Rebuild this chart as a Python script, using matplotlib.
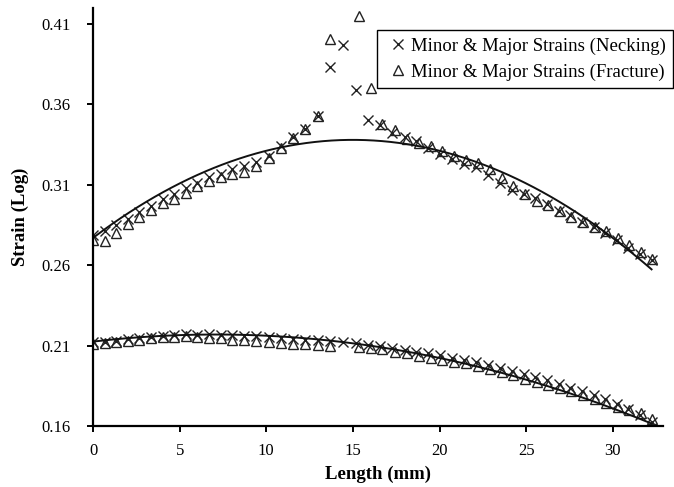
import numpy as np
import matplotlib
matplotlib.use("Agg")
import matplotlib.pyplot as plt

plt.rcParams['font.family'] = ['Liberation Serif', 'DejaVu Serif']

# ---------------- data ----------------
x_necking = [0.00, 0.67, 1.34, 2.01, 2.68, 3.35, 4.02, 4.69, 5.36, 6.03, 6.70, 7.37, 8.04, 8.71,
             9.42, 10.13, 10.84, 11.55, 12.26, 12.97, 13.68, 14.42, 15.16, 15.88, 16.58, 17.28,
             17.98, 18.67, 19.36, 20.05, 20.74, 21.43, 22.12, 22.81, 23.49, 24.17, 24.85, 25.53,
             26.21, 26.88, 27.55, 28.22, 28.89, 29.56, 30.23, 30.90, 31.57, 32.24]
major_necking = [0.279, 0.281, 0.285, 0.289, 0.293, 0.297, 0.301, 0.304, 0.308, 0.311, 0.315, 0.317,
                 0.320, 0.322, 0.324, 0.328, 0.334, 0.340, 0.345, 0.353, 0.383, 0.397, 0.369, 0.3505,
                 0.347, 0.342, 0.340, 0.337, 0.333, 0.329, 0.326, 0.323, 0.321, 0.316, 0.311, 0.307,
                 0.304, 0.302, 0.298, 0.294, 0.291, 0.287, 0.284, 0.280, 0.276, 0.271, 0.267, 0.263]
minor_necking = [0.2125, 0.2125, 0.2130, 0.2140, 0.2148, 0.2155, 0.2160, 0.2165, 0.2170, 0.2168,
                 0.2170, 0.2168, 0.2165, 0.2160, 0.2158, 0.2152, 0.2148, 0.2142, 0.2138, 0.2132,
                 0.2128, 0.2125, 0.2115, 0.2105, 0.2098, 0.2088, 0.2075, 0.2062, 0.2052, 0.2040,
                 0.2025, 0.2010, 0.1995, 0.1980, 0.1962, 0.1945, 0.1925, 0.1905, 0.1885, 0.1862,
                 0.1838, 0.1815, 0.1790, 0.1765, 0.1738, 0.1705, 0.1668, 0.1625]

x_fracture = [0.00, 0.67, 1.34, 2.01, 2.68, 3.35, 4.02, 4.69, 5.36, 6.03, 6.70, 7.37, 8.04, 8.71,
              9.42, 10.13, 10.84, 11.55, 12.26, 12.97, 13.68, 15.33, 16.02, 16.70, 17.42, 18.15,
              18.82, 19.50, 20.17, 20.86, 21.54, 22.22, 22.90, 23.58, 24.26, 24.94, 25.60, 26.27,
              26.94, 27.61, 28.28, 28.95, 29.62, 30.29, 30.96, 31.63, 32.28]
major_fracture = [0.276, 0.275, 0.280, 0.2855, 0.290, 0.2945, 0.2985, 0.301, 0.305, 0.309, 0.3125,
                  0.315, 0.317, 0.318, 0.322, 0.327, 0.333, 0.339, 0.345, 0.353, 0.401, 0.415,
                  0.370, 0.348, 0.344, 0.3385, 0.336, 0.334, 0.331, 0.328, 0.3255, 0.3235, 0.320,
                  0.314, 0.309, 0.304, 0.300, 0.2975, 0.2935, 0.290, 0.287, 0.284, 0.281, 0.2767,
                  0.2726, 0.2684, 0.2637]
minor_fracture = [0.2112, 0.2115, 0.2125, 0.2130, 0.2138, 0.2145, 0.2152, 0.2156, 0.2158, 0.2153,
                  0.2150, 0.2145, 0.2138, 0.2132, 0.2128, 0.2123, 0.2117, 0.2112, 0.2107, 0.2102,
                  0.2097, 0.2092, 0.2083, 0.2077, 0.2062, 0.2052, 0.2033, 0.2022, 0.2010, 0.2000,
                  0.1989, 0.1975, 0.1955, 0.1935, 0.1915, 0.1893, 0.1872, 0.1852, 0.1836, 0.1815,
                  0.1795, 0.1766, 0.1744, 0.1719, 0.1699, 0.1678, 0.1646]

# order-2 polynomial trend lines (coefficients, highest power first)
trend_major = [-0.000271, 0.00813, 0.277]
trend_minor = [-0.0000876, 0.001243, 0.2125]

y_ticks = [0.16, 0.21, 0.26, 0.31, 0.36, 0.41]
x_ticks = [0, 5, 10, 15, 20, 25, 30]
labels = ["Minor & Major Strains (Necking)", "Minor & Major Strains (Fracture)"]

# ---------------- figure ----------------
fig = plt.figure(figsize=(6.74, 4.87), dpi=100)
ax = fig.add_axes([93/674, 61/487, 570/674, 418/487])

mcol = '#222222'
ax.plot(x_necking, major_necking, ls='none', marker='x', ms=7, mew=1.0, color=mcol, label=labels[0])
ax.plot(x_necking, minor_necking, ls='none', marker='x', ms=7, mew=1.0, color=mcol)
ax.plot(x_fracture, major_fracture, ls='none', marker='^', ms=7, mew=1.0, mfc='none', mec=mcol, label=labels[1])
ax.plot(x_fracture, minor_fracture, ls='none', marker='^', ms=7, mew=1.0, mfc='none', mec=mcol)

xx = np.linspace(min(x_necking), max(x_necking), 200)
ax.plot(xx, np.polyval(trend_major, xx), color='#111111', lw=1.4)
ax.plot(xx, np.polyval(trend_minor, xx), color='#111111', lw=1.4)

ax.set_xlim(0, 32.9)
ax.set_ylim(0.16, 0.42)
ax.set_xticks(x_ticks)
ax.set_yticks(y_ticks)
ax.set_yticklabels([f"{v:.2f}" for v in y_ticks])
for s in ['top', 'right']:
    ax.spines[s].set_visible(False)
for s in ['left', 'bottom']:
    ax.spines[s].set_linewidth(1.6)
    ax.spines[s].set_color('black')
ax.tick_params(direction='out', length=4, width=1.4, labelsize=12, colors='black')
ax.tick_params(axis='y', pad=12)
ax.tick_params(axis='x', pad=8)
ax.set_xlabel("Length (mm)", fontsize=13.5, fontweight='bold', labelpad=5)
ax.set_ylabel("Strain (Log)", fontsize=13.5, fontweight='bold', labelpad=9)

leg = ax.legend(loc='upper right', bbox_to_anchor=(673/674, 1 - 30/487),
                bbox_transform=fig.transFigure, fontsize=13.5, frameon=True, fancybox=False,
                edgecolor='black', framealpha=1, borderaxespad=0, handlelength=1.4,
                handletextpad=0.0, borderpad=0.4, labelspacing=0.45)
leg.get_frame().set_linewidth(1.0)

fig.savefig("out.png", dpi=100)
